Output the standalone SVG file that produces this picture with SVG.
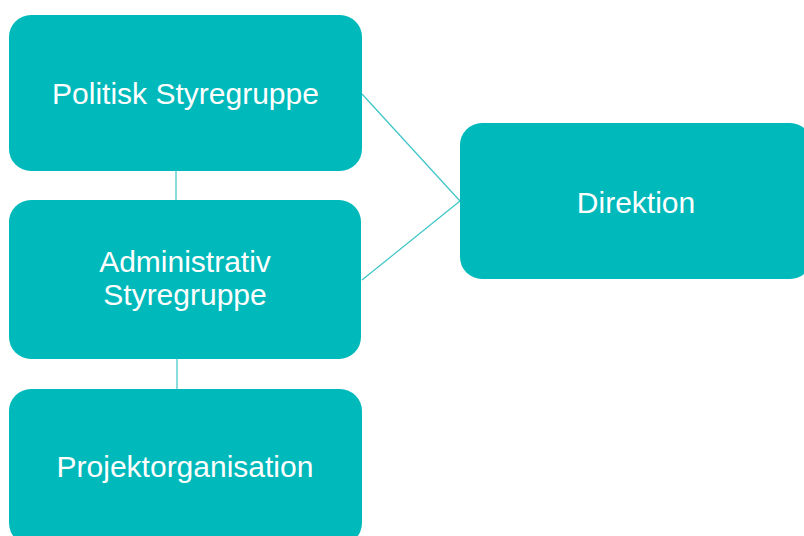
<svg xmlns="http://www.w3.org/2000/svg" width="804" height="536" viewBox="0 0 804 536">
<style>
.box{fill:#00B9BB}
.lbl{fill:#FFFFFF;font-family:"Liberation Sans",Arial,sans-serif;font-size:30px;text-anchor:middle}
.con{stroke:#3CC5C7;stroke-width:1.2;fill:none}
</style>
<rect width="804" height="536" fill="#FFFFFF"/>
<g id="connectors">
<line class="con" x1="176" y1="171" x2="176" y2="200"/>
<line class="con" x1="177" y1="359" x2="177" y2="389"/>
<line class="con" x1="362" y1="94" x2="460" y2="201"/>
<line class="con" x1="362" y1="280" x2="460" y2="201"/>
</g>
<g id="politisk">
<rect class="box" x="9" y="15" width="353" height="156" rx="22" ry="22"/>
<text class="lbl" x="185.5" y="104">Politisk Styregruppe</text>
</g>
<g id="administrativ">
<rect class="box" x="9" y="200" width="352" height="159" rx="22" ry="22"/>
<text class="lbl" x="185" y="272">Administrativ</text>
<text class="lbl" x="185" y="305">Styregruppe</text>
</g>
<g id="projekt">
<rect class="box" x="9" y="389" width="353" height="156" rx="22" ry="22"/>
<text class="lbl" x="185" y="477">Projektorganisation</text>
</g>
<g id="direktion">
<rect class="box" x="460" y="123" width="352" height="156" rx="22" ry="22"/>
<text class="lbl" x="636" y="213">Direktion</text>
</g>
</svg>
